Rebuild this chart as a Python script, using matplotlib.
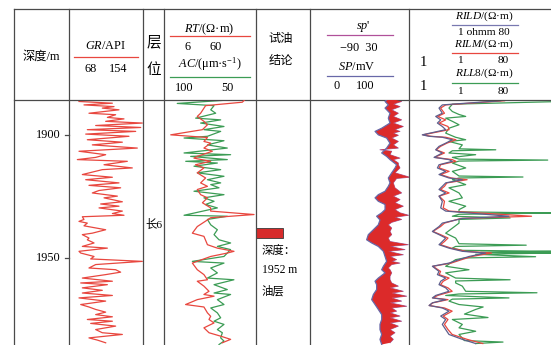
import numpy as np
import matplotlib
matplotlib.use("Agg")
import matplotlib.pyplot as plt
from matplotlib.lines import Line2D
from matplotlib.patches import Rectangle
import matplotlib.transforms as mtransforms

plt.rcParams['font.family'] = ['Liberation Serif', 'Noto Sans CJK SC']
plt.rcParams['mathtext.fontset'] = 'custom'
plt.rcParams['mathtext.rm'] = 'Liberation Serif'
plt.rcParams['mathtext.it'] = 'Liberation Serif:italic'
plt.rcParams['lines.solid_joinstyle'] = 'round'

# ---------------- data ----------------
depth_ticks = [1900, 1950]
depth_top, depth_bottom = 1885.7, 1985.6
oil_layer_top, oil_layer_bottom = 1937.9, 1942.0
formation_label = "长6"
formation_depth = 1935.9

GR_depth = [1886.3, 1887.0, 1887.7, 1888.4, 1889.0, 1889.7, 1891.1, 1891.7, 1892.8, 1893.4,
            1894.4, 1895.1, 1896.1, 1896.9, 1897.8, 1898.5, 1899.6, 1900.5, 1901.9, 1902.9,
            1904.0, 1905.3, 1906.6, 1908.0, 1909.1, 1910.0, 1910.7, 1912.1, 1913.4, 1914.1,
            1916.1, 1917.2, 1918.2, 1919.5, 1920.5, 1921.5, 1922.6, 1923.6, 1924.9, 1925.6,
            1927.2, 1928.1, 1929.0, 1929.7, 1931.0, 1932.0, 1932.7, 1933.3, 1934.4, 1935.2,
            1935.9, 1937.0, 1938.6, 1940.0, 1940.6, 1942.0, 1942.7, 1944.0, 1945.4, 1946.1,
            1947.4, 1948.1, 1949.5, 1950.5, 1951.5, 1952.8, 1954.2, 1954.9, 1955.9, 1956.9,
            1958.3, 1959.6, 1960.3, 1961.0, 1962.3, 1963.3, 1964.4, 1965.4, 1966.4, 1967.7,
            1969.1, 1970.1, 1971.1, 1972.2, 1973.2, 1974.1, 1975.2, 1975.9, 1976.8, 1977.9,
            1979.3, 1980.6, 1981.3, 1982.7, 1983.6, 1984.7]
GR_api = [79.6, 118.4, 85.4, 120.3, 106.7, 126.1, 91.2, 122.2, 112.6, 131.9,
          110.6, 153.2, 99.0, 151.3, 89.3, 145.5, 87.4, 137.7, 89.3, 130.0,
          95.1, 147.4, 79.6, 110.6, 99.0, 77.7, 135.8, 108.7, 141.6, 106.7,
          83.5, 118.4, 87.4, 126.1, 91.2, 128.0, 102.9, 95.1, 124.2, 108.7,
          130.0, 104.8, 126.1, 102.9, 130.0, 118.4, 131.9, 83.5, 85.4, 79.6,
          89.3, 85.4, 110.6, 95.1, 83.5, 91.2, 89.3, 97.1, 83.5, 112.6,
          79.6, 81.6, 97.1, 93.2, 153.2, 99.0, 91.2, 122.2, 128.0, 110.6,
          83.5, 118.4, 81.6, 112.6, 83.5, 106.7, 83.5, 118.4, 79.6, 110.6,
          81.6, 91.2, 99.0, 110.6, 99.0, 118.4, 89.3, 118.4, 93.2, 122.2,
          99.0, 106.7, 130.0, 91.2, 101.0, 110.6]

RT_depth = [1885.2, 1886.6, 1888.0, 1891.1, 1892.4, 1894.4, 1895.8, 1897.8, 1899.9, 1901.0,
            1902.6, 1903.3, 1905.3, 1906.6, 1908.7, 1909.4, 1910.7, 1912.1, 1913.4, 1915.4,
            1917.5, 1919.5, 1920.9, 1922.2, 1924.3, 1925.6, 1927.6, 1929.7, 1931.0, 1932.4,
            1933.7, 1934.6, 1937.3, 1940.0, 1941.3, 1944.7, 1946.1, 1947.4, 1948.1, 1949.5,
            1952.2, 1954.9, 1956.9, 1959.0, 1959.6, 1961.6, 1963.7, 1965.0, 1965.7, 1967.1,
            1969.1, 1970.1, 1972.5, 1973.9, 1975.2, 1976.6, 1978.6, 1980.6, 1982.0, 1983.3,
            1984.7]
RT_ohmm = [46.4, 42.6, 17.0, 15.0, 13.8, 16.3, 17.8, 15.7, 7.1, 17.8,
           16.3, 19.3, 16.3, 20.1, 13.8, 12.7, 19.3, 13.2, 16.3, 13.8,
           17.0, 15.0, 17.8, 13.8, 15.0, 17.8, 15.7, 19.3, 19.3, 57.1,
           19.3, 17.8, 13.8, 12.2, 16.3, 17.8, 22.8, 34.6, 29.3, 19.3,
           12.2, 13.8, 16.3, 17.8, 13.8, 16.3, 18.5, 16.3, 21.0, 13.8,
           10.3, 16.3, 17.8, 19.3, 18.5, 21.0, 16.3, 18.5, 24.8, 31.8,
           25.8]

AC_depth = [1885.6, 1887.1, 1888.0, 1889.7, 1891.1, 1893.1, 1893.8, 1895.1, 1896.5, 1897.8,
            1898.5, 1900.5, 1901.2, 1902.3, 1904.0, 1905.3, 1907.3, 1908.0, 1908.7, 1910.0,
            1910.7, 1911.4, 1912.7, 1914.1, 1915.4, 1916.8, 1918.2, 1919.5, 1920.2, 1921.5,
            1922.9, 1924.3, 1925.6, 1927.0, 1928.3, 1929.7, 1932.7, 1933.1, 1934.4, 1936.6,
            1938.6, 1940.6, 1942.7, 1944.0, 1945.4, 1946.7, 1949.5, 1951.5, 1952.2, 1954.2,
            1956.2, 1958.3, 1959.0, 1961.0, 1963.0, 1964.4, 1965.0, 1967.1, 1969.1, 1970.5,
            1972.5, 1974.5, 1975.9, 1977.2, 1979.3, 1980.6, 1982.7, 1984.0, 1985.4]
AC_us = [62.9, 92.8, 72.8, 74.6, 71.9, 82.8, 69.2, 80.1, 67.4, 78.3,
         69.2, 76.4, 89.1, 67.4, 76.4, 65.6, 89.1, 63.8, 85.5, 65.6,
         88.2, 71.0, 83.7, 69.2, 81.9, 67.4, 76.4, 69.2, 74.6, 70.1,
         83.7, 67.4, 78.3, 72.8, 77.4, 71.0, 89.1, 65.6, 76.4, 74.6,
         71.0, 72.8, 70.1, 63.8, 71.0, 63.8, 67.4, 84.6, 67.4, 74.6,
         71.0, 76.4, 62.0, 72.8, 65.6, 72.8, 63.8, 71.0, 67.4, 74.6,
         71.0, 69.2, 72.8, 67.4, 71.0, 68.3, 69.2, 67.4, 70.1]

SP_depth = [1885.0, 1886.3, 1887.7, 1889.0, 1891.1, 1893.1, 1895.1, 1897.2, 1898.5, 1899.9,
            1901.2, 1903.3, 1905.3, 1907.3, 1908.7, 1910.0, 1912.1, 1913.4, 1915.4, 1917.5,
            1919.5, 1920.9, 1922.9, 1924.3, 1925.6, 1927.0, 1928.3, 1930.4, 1931.7, 1933.1,
            1934.6, 1936.6, 1938.6, 1940.6, 1942.7, 1944.0, 1945.4, 1947.4, 1949.5, 1951.5,
            1953.5, 1954.9, 1956.2, 1958.3, 1959.6, 1961.0, 1963.0, 1965.0, 1967.1, 1969.1,
            1971.1, 1973.2, 1975.2, 1977.2, 1979.3, 1981.3, 1983.3, 1985.4]
SP_mv = [79.1, 75.8, 79.1, 75.8, 80.8, 79.1, 80.8, 72.4, 65.7, 69.0,
         77.4, 80.8, 77.4, 72.4, 77.4, 80.8, 87.5, 85.9, 82.5, 79.1,
         80.8, 79.1, 75.8, 69.0, 65.7, 69.0, 75.8, 75.8, 72.4, 67.3,
         70.7, 69.0, 64.0, 58.9, 57.2, 62.3, 69.0, 74.1, 75.8, 77.4,
         74.1, 72.4, 75.8, 69.0, 65.7, 67.3, 67.3, 64.0, 62.3, 65.7,
         69.0, 72.4, 72.4, 70.7, 70.7, 72.4, 70.7, 72.4]

SPP_depth = [1885.0, 1885.6, 1886.3, 1887.4, 1888.4, 1889.7, 1891.1, 1892.4, 1893.8, 1895.1,
             1896.5, 1897.8, 1898.5, 1899.2, 1900.1, 1901.2, 1902.6, 1904.0, 1905.3, 1906.0,
             1906.6, 1908.0, 1909.4, 1910.0, 1911.4, 1912.1, 1913.4, 1915.4, 1917.2, 1917.7,
             1919.5, 1921.5, 1923.6, 1924.9, 1926.3, 1927.6, 1929.0, 1930.4, 1931.7, 1932.7,
             1933.5, 1934.4, 1935.6, 1936.6, 1937.9, 1939.3, 1940.6, 1942.0, 1943.4, 1944.7,
             1945.4, 1946.7, 1947.4, 1948.8, 1949.5, 1950.8, 1951.5, 1952.2, 1952.8, 1954.2,
             1954.9, 1956.2, 1957.6, 1958.9, 1960.3, 1961.6, 1962.3, 1963.7, 1964.4, 1965.7,
             1966.4, 1967.7, 1968.4, 1969.8, 1970.5, 1971.8, 1972.5, 1973.8, 1974.5, 1975.9,
             1976.6, 1977.9, 1979.3, 1980.6, 1982.0, 1983.3, 1984.7]
SPP_mv = [19.1, 13.0, 21.1, 11.0, 19.1, 9.0, 17.1, 11.0, 21.1, 11.0,
          23.1, 13.0, 19.1, 11.0, 17.1, 9.0, 17.1, 11.0, 17.1, -5.2,
          9.0, 7.0, 19.1, 11.0, 17.1, 17.1, 19.1, 13.0, 31.2, 15.0,
          11.0, 13.0, 21.1, 11.0, 19.1, 13.0, 23.1, 13.0, 19.1, 29.6,
          13.0, 21.1, 9.0, 4.9, 9.0, 7.0, 9.0, 4.9, 7.0, 29.2,
          7.0, 25.1, 4.9, 23.1, 7.0, 15.0, 9.0, 19.1, 9.0, 4.9,
          7.0, 9.0, 7.0, 7.0, 9.0, 17.1, 7.0, 23.1, 9.0, 27.2,
          9.0, 21.1, 7.0, 27.2, 9.0, 15.0, 7.0, 19.1, 7.0, 21.1,
          7.0, 17.1, 7.0, 13.0, 7.0, 11.0, 7.0]

RES_depth = [1886.0, 1887.7, 1889.0, 1891.1, 1892.4, 1893.8, 1895.1, 1896.5, 1897.8, 1899.9,
             1900.5, 1900.9, 1901.9, 1903.3, 1904.6, 1906.0, 1907.3, 1909.1, 1910.0, 1910.7,
             1912.1, 1913.4, 1914.8, 1916.1, 1917.5, 1918.2, 1919.5, 1920.9, 1922.2, 1923.6,
             1924.9, 1927.0, 1929.7, 1931.0, 1933.1, 1934.0, 1935.9, 1937.3, 1939.3, 1940.6,
             1942.0, 1943.4, 1944.7, 1946.1, 1947.4, 1948.1, 1949.5, 1950.8, 1952.2, 1953.5,
             1955.6, 1956.9, 1958.3, 1959.6, 1961.0, 1962.3, 1963.7, 1965.4, 1966.4, 1967.1,
             1968.4, 1969.5, 1970.5, 1971.8, 1973.8, 1975.2, 1977.2, 1979.3, 1981.3, 1983.3,
             1985.0]
RILD = [14.3, 2.63, 2.39, 2.63, 2.17, 2.51, 2.28, 2.63, 2.90, 1.47,
        1.79, 2.63, 3.52, 2.90, 2.39, 2.17, 2.63, 2.07, 3.19, 3.52,
        2.39, 2.28, 2.90, 2.39, 3.19, 4.70, 2.90, 2.63, 2.39, 2.90,
        2.39, 2.63, 2.51, 2.90, 18.2, 4.70, 2.63, 2.39, 1.97, 2.39,
        2.90, 2.63, 2.39, 3.19, 4.70, 9.25, 5.70, 4.27, 3.19, 1.97,
        2.39, 2.28, 2.90, 2.51, 2.39, 2.90, 3.19, 2.17, 1.97, 2.90,
        1.97, 1.79, 2.63, 3.19, 2.51, 2.90, 2.63, 2.90, 3.19, 4.70,
        6.92]
RILM = [16.0, 2.9, 2.5, 2.8, 2.3, 2.9, 2.4, 3.1, 3.2, 1.5,
        1.9, 2.9, 3.9, 3.0, 2.5, 2.2, 2.8, 2.1, 3.5, 3.9,
        2.5, 2.4, 3.2, 2.5, 3.4, 5.4, 3.0, 2.8, 2.5, 3.2,
        2.4, 2.8, 2.7, 3.2, 35.0, 4.5, 2.8, 2.5, 2.0, 2.5,
        3.1, 2.8, 2.5, 3.4, 5.2, 11.0, 6.2, 4.6, 3.4, 2.0,
        2.5, 2.4, 3.2, 2.7, 2.5, 3.1, 3.5, 2.3, 2.0, 3.1,
        2.0, 1.8, 2.8, 3.5, 2.7, 3.1, 2.8, 3.1, 3.5, 5.4,
        8.5]
RLL8_depth = [1885.7, 1886.4, 1887.4, 1889.0, 1890.4, 1891.6, 1892.4, 1893.1, 1894.4, 1895.8,
              1897.2, 1899.2, 1900.9, 1901.9, 1902.6, 1904.0, 1905.6, 1906.0, 1906.4, 1907.3,
              1908.0, 1909.1, 1909.8, 1910.2, 1910.6, 1911.4, 1913.4, 1914.8, 1916.7, 1917.1,
              1917.5, 1918.2, 1920.2, 1921.5, 1923.6, 1925.6, 1927.0, 1929.0, 1930.4, 1931.3,
              1931.8, 1932.3, 1933.1, 1933.8, 1934.4, 1935.9, 1940.0, 1942.0, 1944.3, 1944.9,
              1945.4, 1946.1, 1947.0, 1947.4, 1947.8, 1948.1, 1948.6, 1949.6, 1950.1, 1950.8,
              1953.5, 1954.9, 1956.2, 1958.3, 1959.0, 1959.5, 1960.3, 1961.6, 1963.7, 1964.3,
              1964.8, 1965.4, 1966.4, 1966.9, 1967.7, 1969.1, 1970.1, 1971.1, 1973.0, 1974.4,
              1975.2, 1977.2, 1978.6, 1980.0, 1981.3, 1983.8, 1984.4, 1985.0]
RLL8 = [64, 64, 3.52, 3.19, 3.52, 4.27, 5.18, 2.90, 3.52, 4.27,
        3.19, 2.90, 3.87, 5.18, 3.19, 4.70, 4.27, 12.4, 3.52, 3.19,
        6.92, 3.52, 4.27, 56, 4.27, 3.52, 5.18, 3.52, 4.27, 27.3,
        4.27, 3.52, 5.18, 3.19, 4.27, 4.70, 3.19, 5.18, 4.27, 4.27,
        64, 4.27, 3.52, 18.8, 4.27, 4.27, 2.90, 3.87, 4.27, 30,
        3.87, 3.52, 4.70, 64, 8.0, 64, 6.92, 39.4, 5.0, 3.87,
        2.90, 5.70, 2.90, 3.87, 18.8, 3.87, 3.87, 4.70, 5.18, 41,
        4.27, 2.90, 18.2, 3.52, 3.19, 4.27, 8.6, 6.92, 5.0, 9.9,
        3.52, 4.70, 4.27, 6.92, 4.27, 5.0, 15.3, 6.92]

# ---------------- style ----------------
RED = '#e8473f'
GREEN = '#3c9c55'
SP_PURPLE = '#9a5aa2'
SP_BLUE = '#6868a8'
RILD_C = '#5e5e8c'
FILL_RED = '#dc2a2a'
GRID = '#4a4a4a'
FS = 8.8
FS_RES = 8.2

W, H = 551, 345
fig = plt.figure(figsize=(W / 100, H / 100), dpi=100)


def fx(x):
    return x / W


def fy(y):
    return 1 - y / H


def hline(x0, x1, y, color=GRID, lw=0.9):
    fig.add_artist(Line2D([fx(x0), fx(x1)], [fy(y), fy(y)], transform=fig.transFigure,
                          color=color, lw=lw))


def vline(x, y0, y1, color=GRID, lw=0.9):
    fig.add_artist(Line2D([fx(x), fx(x)], [fy(y0), fy(y1)], transform=fig.transFigure,
                          color=color, lw=lw))


def txt(x, y, s, size=FS, ha='center', **kw):
    fig.text(fx(x), fy(y), s, ha=ha, va='center', fontsize=size, **kw)


def track(x0, x1):
    ax = fig.add_axes([fx(x0), 0, fx(x1) - fx(x0), fy(100)])
    ax.set_ylim(depth_bottom, depth_top)
    ax.axis('off')
    return ax


# table frame
hline(14, 551, 9)
hline(14, 551, 99.5)
for xc in [14, 69, 143, 164, 256, 310, 409]:
    vline(xc, 9, 345)

# ---- header ----
txt(41, 57, "深度/m")
txt(106, 46, r"$GR$/API")
hline(74, 138, 57, RED, 0.9)
txt(91, 69, "68")
txt(118, 69, "154")
txt(153.5, 42, "层", size=10.5)
txt(153.5, 70, "位", size=10.5)
txt(209, 29, r"$RT$/(Ω·m)")
hline(170, 250, 36, RED, 0.9)
txt(188, 47.5, "6")
txt(216, 47.5, "60")
txt(210, 64, r"$AC$/(μm·s$^{-1}$)")
hline(170, 250, 77, GREEN, 0.9)
txt(184, 88, "100")
txt(227, 88, "50")
txt(281, 39, "试油")
txt(281, 61, "结论")
txt(363, 27, r"$sp$'")
hline(327, 393, 35, '#b0509a', 0.9)
txt(359, 48, "−90  30")
txt(357, 66.5, r"$SP$/mV")
hline(327, 393, 76, SP_BLUE, 0.9)
txt(337, 86, "0")
txt(365, 86, "100")
txt(423, 63, "1", size=10.5)
txt(423, 87, "1", size=10.5)
txt(484, 16.5, r"$RILD$/(Ω·m)", size=FS_RES)
hline(452, 518, 25, '#7878b0', 0.9)
txt(484, 32.5, "1 ohmm 80", size=FS_RES)
txt(484, 44.5, r"$RILM$/(Ω·m)", size=FS_RES)
hline(452, 518, 52.5, RED, 0.9)
txt(460, 60.5, "1", size=FS_RES)
txt(503, 60.5, "80", size=FS_RES)
txt(484, 73.5, r"$RLL$8/(Ω·m)", size=FS_RES)
hline(452, 518, 83, GREEN, 0.9)
txt(460, 92, "1", size=FS_RES)
txt(503, 92, "80", size=FS_RES)

# ---- depth track ----
ax_d = track(14, 69)
bt = mtransforms.blended_transform_factory(ax_d.transAxes, ax_d.transData)
for d in depth_ticks:
    ax_d.plot([0.93, 1.0], [d, d], transform=bt, color=GRID, lw=0.9, clip_on=False)
    ax_d.text(0.84, d, str(d), transform=bt, ha='right', va='center', fontsize=FS)

# ---- GR ----
ax_gr = track(69, 143)
ax_gr.set_xlim(68, 154)
ax_gr.plot(GR_api, GR_depth, color=RED, lw=0.9)

# ---- formation ----
ax_f = track(143, 164)
ax_f.set_xlim(0, 1)
ax_f.text(0.52, formation_depth, formation_label, ha='center', va='center', fontsize=8.2)

# ---- RT / AC ----
ax_rt = track(164, 256)
ax_rt.set_xscale('log')
ax_rt.set_xlim(6, 60)
ax_ac = ax_rt.twiny()
ax_ac.axis('off')
ax_ac.set_xlim(100, 50)
ax_ac.plot(AC_us, AC_depth, color=GREEN, lw=0.9)
ax_rt.plot(RT_ohmm, RT_depth, color=RED, lw=0.9)
ax_rt.set_zorder(3)
ax_rt.patch.set_visible(False)

# ---- test oil ----
ax_o = track(256, 310)
ax_o.set_xlim(0, 1)
ax_o.add_patch(Rectangle((0, oil_layer_top), 0.5, oil_layer_bottom - oil_layer_top,
                         facecolor='#d72b2b', edgecolor='#3a3a3a', lw=0.6))
ax_o.text(0.11, 1946.9, "深度：", ha='left', va='center', fontsize=8.2)
ax_o.text(0.11, 1955.0, "1952 m", ha='left', va='center', fontsize=8.4)
ax_o.text(0.11, 1963.6, "油层", ha='left', va='center', fontsize=8.2)

# ---- SP ----
ax_sp = track(310, 409)
ax_sp.set_xlim(0, 100)
ax_spp = ax_sp.twiny()
ax_spp.axis('off')
ax_spp.set_xlim(-90, 30)
pts = ax_spp.transData.transform(np.column_stack([SPP_mv, SPP_depth]))
spp_on_sp = ax_sp.transData.inverted().transform(pts)[:, 0]
ax_sp.fill(np.r_[np.array(SP_mv), spp_on_sp[::-1]],
           np.r_[np.array(SP_depth), np.array(SPP_depth)[::-1]],
           color=FILL_RED, lw=0)
ax_spp.plot(SPP_mv, SPP_depth, color=SP_PURPLE, lw=0.6)
ax_sp.plot(SP_mv, SP_depth, color=SP_BLUE, lw=0.9)
ax_sp.set_zorder(3)
ax_sp.patch.set_visible(False)

# ---- resistivity ----
ax_r = fig.add_axes([fx(409), 0, fx(560) - fx(409), fy(100)])
ax_r.set_ylim(depth_bottom, depth_top)
ax_r.axis('off')
ax_r.set_xscale('log')
ax_r.set_xlim(1, 80)
ax_r.plot(RLL8, RLL8_depth, color=GREEN, lw=0.9)
ax_r.plot(RILM, RES_depth, color=RED, lw=0.9)
ax_r.plot(RILD, RES_depth, color=RILD_C, lw=0.9)

fig.savefig("out.png", dpi=100)
